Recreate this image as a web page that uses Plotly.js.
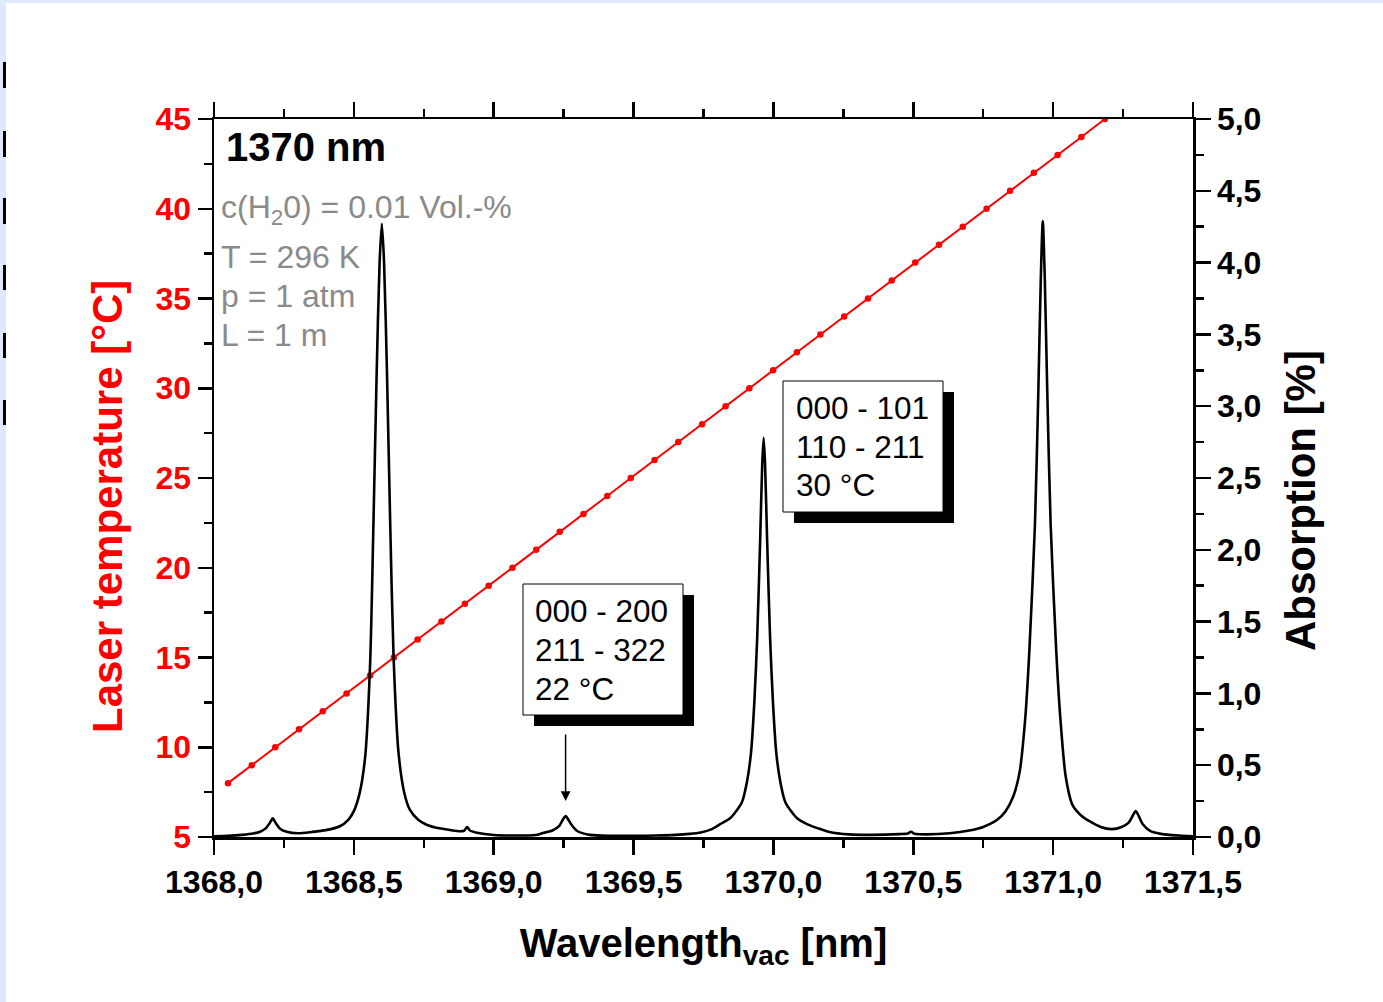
<!DOCTYPE html>
<html>
<head>
<meta charset="utf-8">
<script src="https://cdn.plot.ly/plotly-3.0.1.min.js"></script>
<style>
  html, body { margin:0; padding:0; width:1383px; height:1002px; overflow:hidden; background:#dfe9fa; }
  #sheet { position:absolute; left:6px; top:3px; width:1377px; height:999px; background:#ffffff; }
  #chart { position:absolute; left:0; top:0; width:1383px; height:1002px; }
  .mark { position:absolute; left:3px; width:3px; background:#000; }
</style>
</head>
<body>
<div id="sheet"></div>
<div class="mark" style="top:62px;height:26px"></div>
<div class="mark" style="top:131px;height:26px"></div>
<div class="mark" style="top:198px;height:26px"></div>
<div class="mark" style="top:265px;height:25px"></div>
<div class="mark" style="top:333px;height:25px"></div>
<div class="mark" style="top:400px;height:25px"></div>
<div id="chart"></div>
<script>
// ---- Laser temperature tuning (red, left axis) ----
const tempWavelength = [1368.050, 1368.135, 1368.219, 1368.304, 1368.389, 1368.474, 1368.558, 1368.643,
  1368.728, 1368.813, 1368.897, 1368.982, 1369.067, 1369.152, 1369.236, 1369.321, 1369.406, 1369.490,
  1369.575, 1369.660, 1369.745, 1369.829, 1369.914, 1369.999, 1370.084, 1370.168, 1370.253, 1370.338,
  1370.423, 1370.507, 1370.592, 1370.677, 1370.762, 1370.846, 1370.931, 1371.016, 1371.101, 1371.185, 1371.270];
const laserTemp = [8, 9, 10, 11, 12, 13, 14, 15, 16, 17, 18, 19, 20, 21, 22, 23, 24, 25, 26, 27, 28, 29,
  30, 31, 32, 33, 34, 35, 36, 37, 38, 39, 40, 41, 42, 43, 44, 45, 46];

// ---- Absorption spectrum (black, right axis) ----
const absWavelength = [
  1368.000, 1368.050, 1368.100, 1368.140, 1368.165, 1368.185, 1368.200, 1368.210, 1368.220, 1368.235,
  1368.260, 1368.300, 1368.350, 1368.400, 1368.450, 1368.480, 1368.500, 1368.520, 1368.540, 1368.558,
  1368.570, 1368.582, 1368.592, 1368.600, 1368.608, 1368.618, 1368.630, 1368.642, 1368.660, 1368.680,
  1368.700, 1368.730, 1368.760, 1368.800, 1368.840, 1368.880, 1368.895, 1368.905, 1368.915, 1368.940,
  1369.000, 1369.080, 1369.150, 1369.176, 1369.210, 1369.235, 1369.247, 1369.257, 1369.267, 1369.280,
  1369.300, 1369.344, 1369.420, 1369.500, 1369.580, 1369.650, 1369.700, 1369.740, 1369.780, 1369.810,
  1369.845, 1369.887, 1369.905, 1369.920, 1369.932, 1369.942, 1369.953, 1369.960, 1369.965, 1369.970,
  1369.977, 1369.988, 1369.998, 1370.010, 1370.025, 1370.043, 1370.085, 1370.120, 1370.160, 1370.200,
  1370.270, 1370.350, 1370.450, 1370.480, 1370.492, 1370.505, 1370.550, 1370.630, 1370.700, 1370.750,
  1370.800, 1370.830, 1370.857, 1370.880, 1370.900, 1370.915, 1370.935, 1370.947, 1370.956, 1370.963,
  1370.970, 1370.979, 1370.991, 1371.011, 1371.026, 1371.045, 1371.070, 1371.100, 1371.130, 1371.170,
  1371.210, 1371.245, 1371.270, 1371.285, 1371.295, 1371.305, 1371.320, 1371.345, 1371.390, 1371.450,
  1371.500];
const absorption = [
  0.005, 0.008, 0.015, 0.024, 0.037, 0.060, 0.100, 0.130, 0.100, 0.060,
  0.037, 0.026, 0.035, 0.048, 0.075, 0.120, 0.180, 0.300, 0.550, 1.200,
  2.180, 3.270, 4.000, 4.270, 4.000, 3.270, 2.180, 1.250, 0.580, 0.310,
  0.190, 0.120, 0.085, 0.062, 0.050, 0.040, 0.045, 0.070, 0.045, 0.030,
  0.014, 0.010, 0.014, 0.028, 0.045, 0.080, 0.120, 0.146, 0.120, 0.080,
  0.040, 0.015, 0.008, 0.008, 0.010, 0.015, 0.022, 0.032, 0.055, 0.090,
  0.130, 0.240, 0.380, 0.590, 0.950, 1.390, 2.100, 2.600, 2.780, 2.600,
  2.100, 1.390, 0.950, 0.590, 0.380, 0.240, 0.130, 0.090, 0.060, 0.035,
  0.018, 0.015, 0.020, 0.024, 0.037, 0.022, 0.018, 0.026, 0.045, 0.070,
  0.120, 0.180, 0.280, 0.450, 0.820, 1.300, 2.180, 3.100, 3.900, 4.290,
  3.900, 3.100, 2.180, 1.300, 0.820, 0.420, 0.220, 0.150, 0.110, 0.070,
  0.055, 0.070, 0.100, 0.150, 0.180, 0.150, 0.090, 0.045, 0.020, 0.010,
  0.005];

// ---- Tick labels ----
const xTickVals = [1368.0, 1368.5, 1369.0, 1369.5, 1370.0, 1370.5, 1371.0, 1371.5];
const xTickText = ['1368,0', '1368,5', '1369,0', '1369,5', '1370,0', '1370,5', '1371,0', '1371,5'];
const tempTickVals = [5, 10, 15, 20, 25, 30, 35, 40, 45];
const tempTickText = ['5', '10', '15', '20', '25', '30', '35', '40', '45'];
const absTickVals = [0, 0.5, 1, 1.5, 2, 2.5, 3, 3.5, 4, 4.5, 5];
const absTickText = ['0,0', '0,5', '1,0', '1,5', '2,0', '2,5', '3,0', '3,5', '4,0', '4,5', '5,0'];

// ---- Texts ----
const xTitle = 'Wavelength<sub>vac</sub> [nm]';
const yTitleLeft = 'Laser temperature [°C]';
const yTitleRight = 'Absorption [%]';
const headline = '1370 nm';
const conditions = ['c(H<sub>2</sub>0) = 0.01 Vol.-%', 'T = 296 K', 'p = 1 atm', 'L = 1 m'];
const lineLabel1 = ['000 - 200', '211 - 322', '22 °C'];
const lineLabel2 = ['000 - 101', '110 - 211', '30 °C'];
const arrowTarget = {x: 1369.257, y: 0.25};

const FONT = 'Liberation Sans, Arial, Helvetica, sans-serif';
const LW = 2.5;

const traces = [
  {
    x: absWavelength, y: absorption, yaxis: 'y2', type: 'scatter', mode: 'lines',
    line: {color: '#000000', width: 2.6, shape: 'spline', smoothing: 0.7},
    hoverinfo: 'skip'
  },
  {
    x: tempWavelength, y: laserTemp, yaxis: 'y', type: 'scatter', mode: 'lines+markers',
    line: {color: '#ff0000', width: 2}, marker: {color: '#ff0000', size: 6.5},
    hoverinfo: 'skip'
  }
];

function px2paperX(px) { return (px - 214) / 979; }
function px2paperY(py) { return (837 - py) / 718; }

const shapes = [];
function addBox(x0, y0, w, h) {
  shapes.push({type: 'rect', xref: 'paper', yref: 'paper', layer: 'above',
    x0: px2paperX(x0 + 11), x1: px2paperX(x0 + w + 11), y0: px2paperY(y0 + 11), y1: px2paperY(y0 + h + 11),
    fillcolor: '#000000', line: {width: 0}});
  shapes.push({type: 'rect', xref: 'paper', yref: 'paper', layer: 'above',
    x0: px2paperX(x0), x1: px2paperX(x0 + w), y0: px2paperY(y0), y1: px2paperY(y0 + h),
    fillcolor: '#ffffff', line: {color: '#000000', width: 1}});
}
addBox(523, 584, 160, 131);
addBox(783, 381, 160, 131);

const annotations = [
  {xref: 'paper', yref: 'paper', x: px2paperX(224), y: px2paperY(147), xanchor: 'left', yanchor: 'middle',
   text: '<b>' + headline + '</b>', showarrow: false, font: {family: FONT, size: 40, color: '#000'}},
  {xref: 'paper', yref: 'paper', x: px2paperX(107), y: px2paperY(507), xanchor: 'center', yanchor: 'middle',
   textangle: -90, text: '<b>' + yTitleLeft + '</b>', showarrow: false, font: {family: FONT, size: 42, color: '#ff0000'}},
  {xref: 'paper', yref: 'paper', x: px2paperX(1300), y: px2paperY(501), xanchor: 'center', yanchor: 'middle',
   textangle: -90, text: '<b>' + yTitleRight + '</b>', showarrow: false, font: {family: FONT, size: 42, color: '#000'}}
];
const condY = [209, 257, 296, 335];
conditions.forEach((t, i) => annotations.push({
  xref: 'paper', yref: 'paper', x: px2paperX(219), y: px2paperY(condY[i]), xanchor: 'left', yanchor: 'middle',
  text: t, showarrow: false, font: {family: FONT, size: 32, color: '#8a8a8a'}
}));
const boxLineY1 = [611, 650, 689];
lineLabel1.forEach((t, i) => annotations.push({
  xref: 'paper', yref: 'paper', x: px2paperX(533), y: px2paperY(boxLineY1[i]), xanchor: 'left', yanchor: 'middle',
  text: t, showarrow: false, font: {family: FONT, size: 31.5, color: '#000'}
}));
const boxLineY2 = [408, 447, 485];
lineLabel2.forEach((t, i) => annotations.push({
  xref: 'paper', yref: 'paper', x: px2paperX(794), y: px2paperY(boxLineY2[i]), xanchor: 'left', yanchor: 'middle',
  text: t, showarrow: false, font: {family: FONT, size: 31.5, color: '#000'}
}));
annotations.push({xref: 'x', yref: 'y2', x: arrowTarget.x, y: arrowTarget.y, text: '', showarrow: true,
  axref: 'pixel', ayref: 'pixel', ax: 0, ay: -68, arrowhead: 2, arrowsize: 1.3, arrowwidth: 1.5, arrowcolor: '#000'});

const layout = {
  width: 1383, height: 1002,
  margin: {l: 214, r: 190, t: 119, b: 165, pad: 0},
  paper_bgcolor: 'rgba(0,0,0,0)', plot_bgcolor: 'rgba(0,0,0,0)',
  showlegend: false,
  font: {family: FONT, color: '#000'},
  xaxis: {
    range: [1368, 1371.5], tickmode: 'array', tickvals: xTickVals, ticktext: xTickText,
    ticks: 'outside', ticklen: 15, tickwidth: LW, tickcolor: '#000',
    showline: true, linewidth: LW, linecolor: '#000', mirror: 'ticks',
    showgrid: false, zeroline: false,
    tickfont: {family: FONT, size: 32, weight: 'bold', color: '#000'},
    minor: {ticks: 'outside', ticklen: 8, tickwidth: LW, tickcolor: '#000', tickmode: 'linear', tick0: 1368, dtick: 0.25, showgrid: false},
    title: {text: xTitle, font: {family: FONT, size: 40, weight: 'bold', color: '#000'}, standoff: 30}
  },
  yaxis: {
    range: [5, 45], tickmode: 'array', tickvals: tempTickVals, ticktext: tempTickText,
    ticks: 'outside', ticklen: 14, tickwidth: LW, tickcolor: '#000',
    showline: true, linewidth: LW, linecolor: '#000',
    showgrid: false, zeroline: false,
    tickfont: {family: FONT, size: 32, weight: 'bold', color: '#ff0000'},
    minor: {ticks: 'outside', ticklen: 8, tickwidth: LW, tickcolor: '#000', tickmode: 'linear', tick0: 5, dtick: 2.5, showgrid: false}
  },
  yaxis2: {
    range: [0, 5], overlaying: 'y', side: 'right', tickmode: 'array', tickvals: absTickVals, ticktext: absTickText,
    ticks: 'outside', ticklen: 15, tickwidth: LW, tickcolor: '#000',
    showline: true, linewidth: LW, linecolor: '#000',
    showgrid: false, zeroline: false,
    tickfont: {family: FONT, size: 32, weight: 'bold', color: '#000'},
    minor: {ticks: 'outside', ticklen: 8, tickwidth: LW, tickcolor: '#000', tickmode: 'linear', tick0: 0, dtick: 0.25, showgrid: false}
  },
  shapes: shapes,
  annotations: annotations
};

Plotly.newPlot('chart', traces, layout, {displayModeBar: false, staticPlot: true});
</script>
</body>
</html>
